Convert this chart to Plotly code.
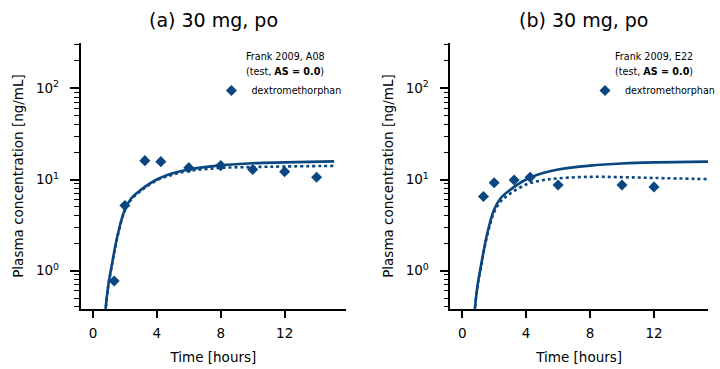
import plotly.graph_objects as go

# ---------------- data ----------------
panel_titles = ["(a) 30 mg, po", "(b) 30 mg, po"]
legend_studies = ["Frank 2009, A08", "Frank 2009, E22"]
legend_tests = ["(test, <b>AS = 0.0</b>)", "(test, <b>AS = 0.0</b>)"]
compound = "dextromethorphan"

x_tickvals = [0, 4, 8, 12]
y_tickvals = [1, 10, 100]
y_ticktext = ["10<sup>0</sup>", "10<sup>1</sup>", "10<sup>2</sup>"]

# observed data (A08)
obs_t_a = [1.33, 2.0, 3.25, 4.25, 6.0, 8.0, 10.0, 12.0, 14.0]
obs_c_a = [0.77, 5.2, 16.1, 15.7, 13.5, 14.2, 12.9, 12.2, 10.6]
# observed data (E22)
obs_t_b = [1.33, 2.0, 3.25, 4.25, 6.0, 10.0, 12.0]
obs_c_b = [6.5, 9.2, 9.9, 10.6, 8.7, 8.7, 8.3]

# simulated curves (solid / dotted)
sim_t_a = [0.76, 0.80, 0.95, 1.16, 1.57, 1.98, 2.39, 3.0, 4.0, 5.0, 6.0, 8.0, 10.0, 12.0, 15.1]
sim_solid_a = [0.30, 0.39, 0.67, 1.10, 2.57, 4.6, 6.2, 7.7, 10.0, 11.7, 12.9, 14.3, 15.1, 15.4, 15.8]
sim_dot_a = [0.30, 0.39, 0.66, 1.08, 2.50, 4.5, 6.0, 7.5, 9.8, 11.3, 12.4, 13.4, 13.7, 13.9, 14.1]

sim_t_b = [0.76, 0.80, 0.95, 1.16, 1.57, 1.98, 2.39, 3.0, 4.0, 5.0, 6.0, 8.0, 10.0, 12.0, 15.4]
sim_solid_b = [0.30, 0.39, 0.67, 1.10, 2.57, 4.6, 6.2, 7.7, 10.0, 11.7, 12.9, 14.2, 15.0, 15.4, 15.7]
sim_dot_b = [0.30, 0.39, 0.66, 1.07, 2.45, 4.3, 5.7, 7.0, 8.8, 9.8, 10.3, 10.7, 10.6, 10.4, 10.1]

# ---------------- style ----------------
COLOR = "#0a4780"
FONT = "DejaVu Sans"
W, H = 720, 369

fig = go.Figure()

panels = [
    (obs_t_a, obs_c_a, sim_t_a, sim_solid_a, sim_dot_a, "x", "y", "legend"),
    (obs_t_b, obs_c_b, sim_t_b, sim_solid_b, sim_dot_b, "x2", "y2", "legend2"),
]
for ot, oc, st, ss, sd, xa, ya, lg in panels:
    fig.add_trace(go.Scatter(x=st, y=ss, mode="lines", line=dict(color=COLOR, width=2.6, shape="spline"),
                             xaxis=xa, yaxis=ya, showlegend=False, hoverinfo="skip"))
    fig.add_trace(go.Scatter(x=st, y=sd, mode="lines", line=dict(color=COLOR, width=2.6, dash="dot", shape="spline"),
                             xaxis=xa, yaxis=ya, showlegend=False, hoverinfo="skip"))
    fig.add_trace(go.Scatter(x=ot, y=oc, mode="markers", name=compound,
                             marker=dict(symbol="diamond", size=8.5, color=COLOR),
                             xaxis=xa, yaxis=ya, legend=lg, showlegend=True))

ydom = [1 - 309 / H, 1 - 43 / H]
common_x = dict(showline=True, linecolor="black", linewidth=1.6, ticks="outside", ticklen=7, tickwidth=1.5,
                tickcolor="black", showgrid=False, zeroline=False, tickvals=x_tickvals,
                tickfont=dict(family=FONT, size=13.5, color="black"), ticklabelstandoff=4,
                title=dict(text="Time [hours]", font=dict(family=FONT, size=13.5, color="black"), standoff=13),
                mirror=False)
common_y = dict(type="log", showline=True, linecolor="black", linewidth=1.6, ticks="outside", ticklen=9,
                tickwidth=1.5, tickcolor="black", showgrid=False, zeroline=False,
                tickvals=y_tickvals, ticktext=y_ticktext, range=[-0.42, 2.497],
                tickfont=dict(family=FONT, size=13.5, color="black"), ticklabelstandoff=8,
                minor=dict(ticks="outside", ticklen=5, tickwidth=1.2, tickcolor="black", dtick="D1", showgrid=False),
                title=dict(text="Plasma concentration [ng/mL]", font=dict(family=FONT, size=13.5, color="black"),
                           standoff=9))

fig.update_layout(
    width=W, height=H, margin=dict(l=0, r=0, t=0, b=0),
    paper_bgcolor="white", plot_bgcolor="white",
    font=dict(family=FONT, color="black"),
    xaxis=dict(domain=[82 / W, 352 / W], range=[-0.77, 15.85], anchor="y", **common_x),
    yaxis=dict(domain=ydom, anchor="x", **common_y),
    xaxis2=dict(domain=[458 / W, 1.0], range=[-0.74, 15.38], anchor="y2", **common_x),
    yaxis2=dict(domain=ydom, anchor="x2", **common_y),
    legend=dict(x=(233 - 18) / W, y=1 - 76 / H, xanchor="left", yanchor="top",
                font=dict(family=FONT, size=9.6, color="black"), bgcolor="rgba(0,0,0,0)", borderwidth=0),
    legend2=dict(x=(613 - 18) / W, y=1 - 76 / H, xanchor="left", yanchor="top",
                 font=dict(family=FONT, size=9.6, color="black"), bgcolor="rgba(0,0,0,0)", borderwidth=0),
    showlegend=True,
)

# panel titles and legend headings
centers = [217, 593]
text_left = [248, 623]
for i in range(2):
    fig.add_annotation(text=panel_titles[i], xref="paper", yref="paper", x=centers[i] / W, y=1 - 20 / H,
                       xanchor="center", yanchor="middle", showarrow=False,
                       font=dict(family=FONT, size=19, color="black"))
    fig.add_annotation(text=legend_studies[i], xref="paper", yref="paper", x=text_left[i] / W, y=1 - 56.7 / H,
                       xanchor="left", yanchor="middle", showarrow=False, align="left",
                       font=dict(family=FONT, size=9.6, color="black"))
    fig.add_annotation(text=legend_tests[i], xref="paper", yref="paper", x=text_left[i] / W, y=1 - 71 / H,
                       xanchor="left", yanchor="middle", showarrow=False, align="left",
                       font=dict(family=FONT, size=9.6, color="black"))

fig.write_html("out.html")
